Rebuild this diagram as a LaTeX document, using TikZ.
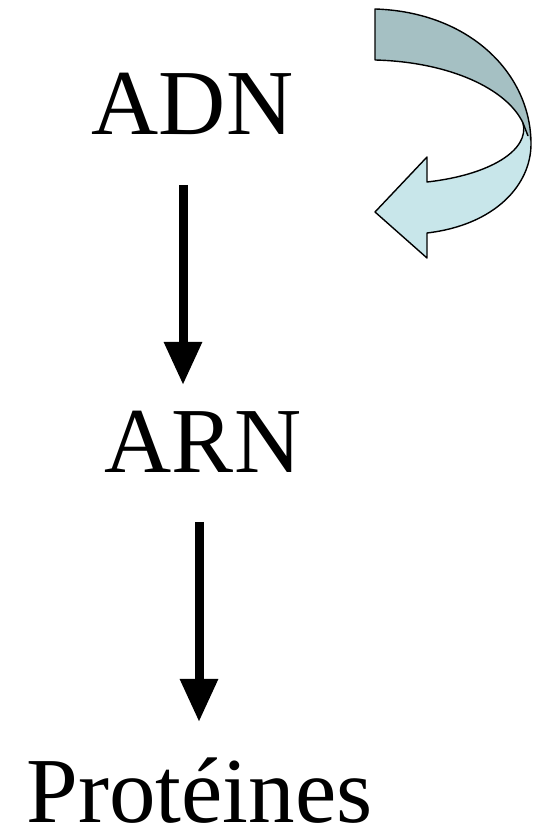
\documentclass[tikz,border=0pt]{standalone}
\usepackage{fontspec}
\setmainfont{Liberation Serif}
\usetikzlibrary{arrows.meta}
\definecolor{ribbondark}{RGB}{165,192,195}
\definecolor{ribbonlight}{RGB}{200,230,234}
\tikzset{
  label/.style={inner sep=0pt, anchor=base, font=\fontsize{93}{100}\selectfont},
  flow/.style={line width=9pt, -{Triangle[length=43pt,width=36pt]}},
  ribbon/.style={draw=black, line width=1.4pt, line join=round}
}
\begin{document}
\begin{tikzpicture}[x=1pt,y=1pt]
\useasboundingbox (0,0) rectangle (533,834);

% labels, placed by their baselines
\node[label] (adn) at (192.5,699) {ADN};
\node[label] (arn) at (203,361) {ARN};
\node[label] (prot) at (199.5,11) {Protéines};

% vertical arrows between the stages
\draw[flow] ([xshift=-9.5pt,yshift=-50pt]adn.base) -- ([xshift=-20pt,yshift=88pt]arn.base);
\draw[flow] ([xshift=-4pt,yshift=-49pt]arn.base) -- ([xshift=-0.5pt,yshift=101pt]prot.base);

% twisted curved arrow: back face of the ribbon
\fill[ribbondark] (375,825) -- (375,774)
  .. controls (450,772) and (507,745) .. (523,711)
  -- (531,690)
  .. controls (531,760) and (470,822) .. (375,825) -- cycle;
% front face with the arrow head
\fill[ribbonlight] (523,711)
  .. controls (530,684) and (490,659) .. (427,652)
  -- (427,677) -- (375,622) -- (427,576) -- (427,601)
  .. controls (495,609) and (531,649) .. (531,690)
  -- cycle;
% outlines
\draw[ribbon] (375,825) -- (375,774)
  .. controls (450,772) and (507,745) .. (523,711)
  .. controls (530,684) and (490,659) .. (427,652)
  -- (427,677) -- (375,622) -- (427,576) -- (427,601)
  .. controls (495,609) and (531,649) .. (531,690)
  .. controls (531,760) and (470,822) .. (375,825) -- cycle;
\draw[ribbon] (523,711) -- (528,698);
\end{tikzpicture}
\end{document}
